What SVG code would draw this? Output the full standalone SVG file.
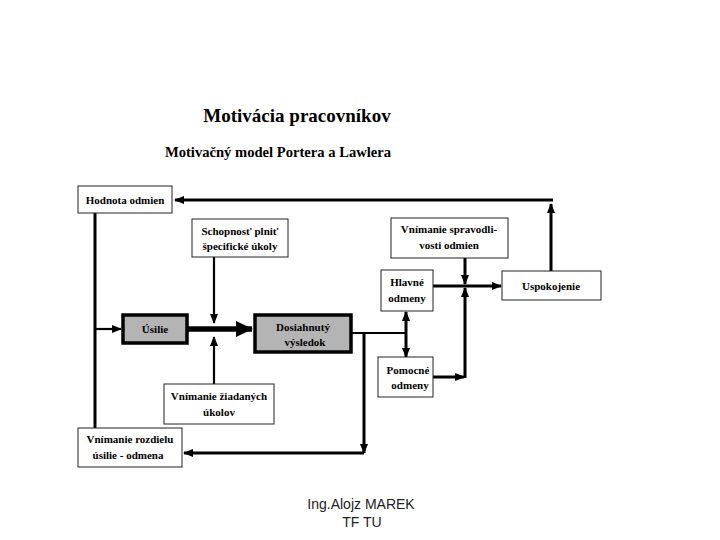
<svg xmlns="http://www.w3.org/2000/svg" width="720" height="540" viewBox="0 0 720 540">
<defs>
<style>
.box{fill:#fff;stroke:#222;stroke-width:1}
.tbox{fill:#b4b4b4;stroke:#000;stroke-width:3.5}
.t{font-family:"Liberation Serif","Times New Roman",serif;font-weight:bold;font-size:11px;fill:#000;text-anchor:middle}
.c{fill:none;stroke:#000;stroke-width:3}
.cs{fill:none;stroke:#000;stroke-width:2.2}
.foot{font-family:"Liberation Sans",Arial,sans-serif;font-size:14px;fill:#222;text-anchor:middle}
</style>
<marker id="a" markerUnits="userSpaceOnUse" markerWidth="10" markerHeight="10" refX="9" refY="5" orient="auto-start-reverse" viewBox="0 0 10 10">
<path d="M0,1 L10,5 L0,9 Z" fill="#000"/>
</marker>
<marker id="big" markerUnits="userSpaceOnUse" markerWidth="17" markerHeight="16" refX="16" refY="8" orient="auto" viewBox="0 0 17 16">
<path d="M0,0 L17,8 L0,16 Z" fill="#000"/>
</marker>
</defs>
<rect width="720" height="540" fill="#fff"/>
<text x="297" y="122" style="font-family:'Liberation Serif','Times New Roman',serif;font-weight:bold;font-size:19px;text-anchor:middle">Motivácia pracovníkov</text>
<text x="278" y="157" style="font-family:'Liberation Serif','Times New Roman',serif;font-weight:bold;font-size:14.6px;text-anchor:middle">Motivačný model Portera a Lawlera</text>

<g id="connectors">
<path class="c" d="M551,271 V204" marker-end="url(#a)"/>
<path class="c" d="M553,200 H175" marker-end="url(#a)"/>
<path class="cs" d="M214,257 V323" marker-end="url(#a)"/>
<path class="cs" d="M214,384 V337" marker-end="url(#a)"/>
<path class="c" d="M95,213 V428"/>
<path class="cs" d="M95,329 H121" marker-end="url(#a)"/>
<path fill="none" stroke="#000" stroke-width="5.5" d="M188,329 H252" marker-end="url(#big)"/>
<path class="cs" d="M352,333 H406"/>
<path class="c" d="M406,312 V357" marker-start="url(#a)" marker-end="url(#a)"/>
<path class="c" d="M364,333 V453"/>
<path class="cs" d="M364,440 V453" marker-end="url(#a)"/>
<path class="c" d="M364,453 H184" marker-end="url(#a)"/>
<path class="c" d="M433,286 H501" marker-end="url(#a)"/>
<path class="c" d="M465,258 V284" marker-end="url(#a)"/>
<path class="c" d="M433,377 H464" marker-end="url(#a)"/>
<path class="c" d="M465,378 V288" marker-end="url(#a)"/>
</g>

<g id="hodnota"><rect class="box" x="78" y="186" width="94" height="27"/><text class="t" x="125" y="204">Hodnota odmien</text></g>
<g id="schopnost"><rect class="box" x="192" y="219" width="96" height="38"/><text class="t" x="240" y="235">Schopnosť plniť</text><text class="t" x="240" y="250">špecifické úkoly</text></g>
<g id="spravodlivost"><rect class="box" x="391" y="218" width="117" height="40"/><text class="t" x="449" y="233">Vnímanie spravodli-</text><text class="t" x="449" y="249">vosti  odmien</text></g>
<g id="hlavne"><rect class="box" x="381" y="270" width="52" height="41"/><text class="t" x="407" y="286">Hlavné</text><text class="t" x="407" y="302">odmeny</text></g>
<g id="uspokojenie"><rect class="box" x="502" y="271" width="99" height="29"/><text class="t" x="551" y="290">Uspokojenie</text></g>
<g id="usilie"><rect class="tbox" x="123" y="315" width="64" height="28"/><text class="t" x="155" y="333">Úsilie</text></g>
<g id="dosiahnuty"><rect class="tbox" x="255" y="315" width="96" height="37"/><text class="t" x="303" y="331">Dosiahnutý</text><text class="t" x="305" y="346">výsledok</text></g>
<g id="pomocne"><rect class="box" x="378" y="357" width="55" height="40"/><text class="t" x="408" y="374">Pomocné</text><text class="t" x="410" y="389">odmeny</text></g>
<g id="ziadanych"><rect class="box" x="164" y="384" width="110" height="40"/><text class="t" x="219" y="400">Vnímanie žiadaných</text><text class="t" x="219" y="416">úkolov</text></g>
<g id="rozdiel"><rect class="box" x="78" y="428" width="104" height="39"/><text class="t" x="130" y="443">Vnímanie rozdielu</text><text class="t" x="128" y="459">úsilie - odmena</text></g>

<text class="foot" x="361" y="509">Ing.Alojz MAREK</text>
<text class="foot" x="362" y="527">TF TU</text>
</svg>
